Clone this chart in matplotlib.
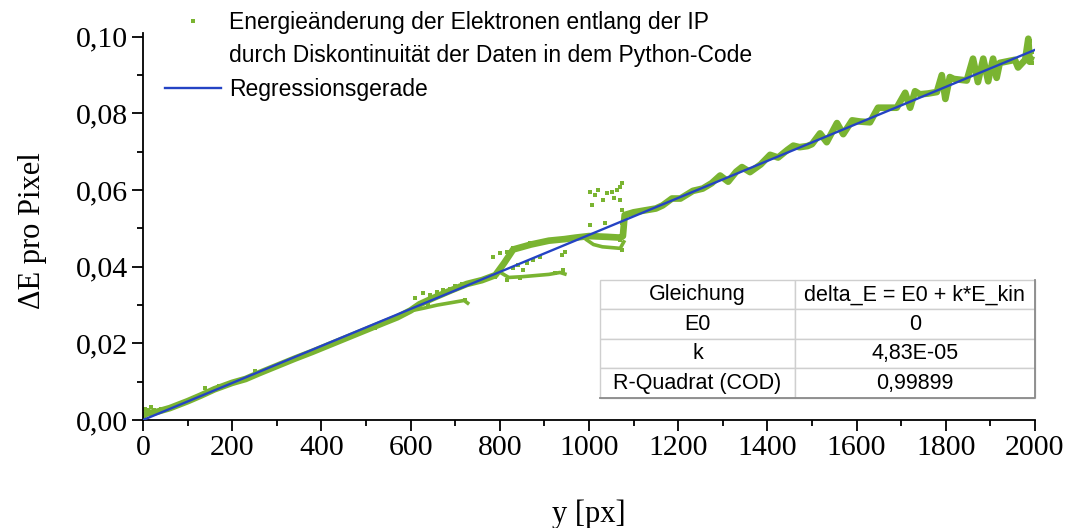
import matplotlib
matplotlib.use('Agg')
import matplotlib.pyplot as plt
from matplotlib.lines import Line2D
from matplotlib.ticker import MultipleLocator, FuncFormatter

# main band of the data (y in px, delta E per pixel)
band_x = [0, 10, 30, 60, 100, 130, 160, 200, 230, 260,
          300, 340, 380, 420, 460, 500, 540, 570, 600, 620,
          650, 690, 726, 760, 790, 810, 830, 870, 910, 945,
          970, 1000, 1040, 1070, 1076, 1080, 1100, 1130, 1150, 1165,
          1186, 1205, 1233, 1255, 1275, 1294, 1312, 1330, 1343, 1361,
          1385, 1406, 1424, 1445, 1458, 1472, 1490, 1500, 1518, 1533,
          1556, 1570, 1590, 1607, 1630, 1648, 1668, 1690, 1709, 1720,
          1731, 1742, 1760, 1780, 1791, 1799, 1809, 1818, 1847, 1861,
          1872, 1884, 1895, 1906, 1914, 1921, 1955, 1962, 1978, 1985,
          1988, 1993]
band_y = [0.0012, 0.0018, 0.0021, 0.0031, 0.0049, 0.0064, 0.0080, 0.0097, 0.0107, 0.0122,
          0.0141, 0.0160, 0.0178, 0.0197, 0.0216, 0.0235, 0.0254, 0.0268, 0.0286, 0.0302,
          0.0318, 0.0338, 0.0355, 0.0365, 0.0378, 0.0410, 0.0445, 0.0458, 0.0468, 0.0472,
          0.0476, 0.0480, 0.0478, 0.0476, 0.0480, 0.0535, 0.0542, 0.0548, 0.0552, 0.0560,
          0.0578, 0.0578, 0.0598, 0.0604, 0.0618, 0.0638, 0.0622, 0.0648, 0.0660, 0.0647,
          0.0667, 0.0692, 0.0685, 0.0705, 0.0716, 0.0712, 0.0715, 0.0720, 0.0748, 0.0725,
          0.0775, 0.0746, 0.0782, 0.0779, 0.0777, 0.0815, 0.0815, 0.0815, 0.0854, 0.0815,
          0.0858, 0.0850, 0.0852, 0.0856, 0.0900, 0.0838, 0.0895, 0.0890, 0.0886, 0.0943,
          0.0882, 0.0943, 0.0884, 0.0943, 0.0893, 0.0932, 0.0940, 0.0920, 0.0940, 0.0995,
          0.0935, 0.0950]

# split-off branches (discontinuities)
branch_a_x = [605, 630, 660, 690, 720, 728]
branch_a_y = [0.0286, 0.0292, 0.0300, 0.0306, 0.0312, 0.0305]
branch_b_x = [800, 820, 850, 880, 910, 935, 946]
branch_b_y = [0.0386, 0.0372, 0.0374, 0.0377, 0.0380, 0.0385, 0.0381]
branch_c_x = [995, 1010, 1030, 1050, 1070, 1078]
branch_c_y = [0.0470, 0.0458, 0.0452, 0.0450, 0.0448, 0.0465]

# loose single points
out_x = [2, 5, 12, 18, 25, 40, 139, 170, 250, 520,
         610, 628, 644, 659, 673, 689, 704, 722, 640, 700, 715,
         785, 800, 816, 830, 868, 905, 939, 946, 942, 924, 852, 841, 830, 816, 845, 860, 875, 890, 789,
         1002, 1013, 1032, 1040, 1051, 1062, 1074, 1069, 1069, 1073, 1006, 1036, 1002, 1073, 1069, 1073, 1020, 1055,
         1993, 1993, 1990]
out_y = [0.0005, 0.0030, 0.0026, 0.0034, 0.0027, 0.0030, 0.0084, 0.0090, 0.0127, 0.0240,
         0.0318, 0.0331, 0.0326, 0.0335, 0.0339, 0.0341, 0.0344, 0.0313, 0.0300, 0.0350, 0.0356,
         0.0426, 0.0436, 0.0439, 0.0449, 0.0462, 0.0465, 0.0431, 0.0439, 0.0392, 0.0384, 0.0392, 0.0405, 0.0396, 0.0366, 0.0370, 0.0410, 0.0418, 0.0425, 0.0373,
         0.0596, 0.0587, 0.0574, 0.0592, 0.0596, 0.0601, 0.0618, 0.0609, 0.0574, 0.0548, 0.0561, 0.0514, 0.0509, 0.0514, 0.0470, 0.0444, 0.0600, 0.0580,
         0.0960, 0.0932, 0.0945]

# regression
E0 = 0.0
k = 4.83e-5
reg_x = [0, 2000]
reg_y = [E0 + k * x for x in reg_x]

table_rows = [['Gleichung', 'delta_E = E0 + k*E_kin'],
              ['E0', '0'],
              ['k', '4,83E-05'],
              ['R-Quadrat (COD)', '0,99899']]

green = '#7ab431'
blue = '#2443c4'
serif = 'Liberation Serif'
sans = 'Liberation Sans'

fig = plt.figure(figsize=(10.72, 5.28), dpi=100)
ax = fig.add_axes([143 / 1072, 108 / 528, 892 / 1072, 387 / 528])

ax.plot(band_x, band_y, color=green, lw=4.8, solid_capstyle='butt', zorder=2)
ax.plot(branch_a_x, branch_a_y, color=green, lw=2.6, zorder=2)
ax.plot(branch_b_x, branch_b_y, color=green, lw=2.6, zorder=2)
ax.plot(branch_c_x, branch_c_y, color=green, lw=2.6, zorder=2)
ax.plot(out_x, out_y, 's', color=green, ms=2.8, mew=0, zorder=2)
ax.plot(reg_x, reg_y, color=blue, lw=1.7, zorder=3)

ax.set_xlim(0, 2000)
ax.set_ylim(0, 0.101)
ax.spines['top'].set_visible(False)
ax.spines['right'].set_visible(False)
for s in ['left', 'bottom']:
    ax.spines[s].set_linewidth(1.3)

ax.xaxis.set_major_locator(MultipleLocator(200))
ax.xaxis.set_minor_locator(MultipleLocator(100))
ax.yaxis.set_major_locator(MultipleLocator(0.02))
ax.yaxis.set_minor_locator(MultipleLocator(0.01))
ax.yaxis.set_major_formatter(FuncFormatter(lambda v, p: f'{v:.2f}'.replace('.', ',')))
ax.tick_params(which='major', direction='out', length=8, width=1.3, labelsize=21.5, pad=3)
ax.tick_params(which='minor', direction='out', length=4.5, width=1.3)
for lab in ax.get_xticklabels() + ax.get_yticklabels():
    lab.set_fontfamily(serif)

ax.set_xlabel('y [px]', fontsize=22, fontfamily=serif)
ax.set_ylabel('ΔE pro Pixel', fontsize=22, fontfamily=serif)
ax.xaxis.set_label_coords(0.5, -0.205)
ax.yaxis.set_label_coords(-0.108, 0.49)

# legend
handles = [Line2D([], [], marker='s', ls='none', color=green, ms=2.8, mew=0),
           Line2D([], [], ls='none'),
           Line2D([], [], color=blue, lw=1.7)]
labels = ['Energieänderung der Elektronen entlang der IP',
          'durch Diskontinuität der Daten in dem Python-Code',
          'Regressionsgerade']
fig.legend(handles, labels, loc='upper left', bbox_to_anchor=(165 / 1072, 1 - 11 / 528),
           frameon=False, prop={'family': sans, 'size': 16.5}, handlelength=2.45,
           handletextpad=0.35, labelspacing=0.45, borderpad=0, borderaxespad=0)

# parameter table
tab = ax.table(cellText=table_rows, colWidths=[0.448, 0.552],
               bbox=[0.5123, 0.0569, 0.4877, 0.305], cellLoc='center')
tab.auto_set_font_size(False)
for cell in tab.get_celld().values():
    cell.set_edgecolor('#cfcfcf')
    cell.set_linewidth(1.0)
    cell.get_text().set_fontfamily(sans)
    cell.get_text().set_fontsize(15.5)
ax.plot([0.5123, 1.0, 1.0], [0.0569, 0.0569, 0.3618], color='#8a8a8a', lw=1.3,
        transform=ax.transAxes, clip_on=False, zorder=5)

fig.savefig('out.png', dpi=100)
